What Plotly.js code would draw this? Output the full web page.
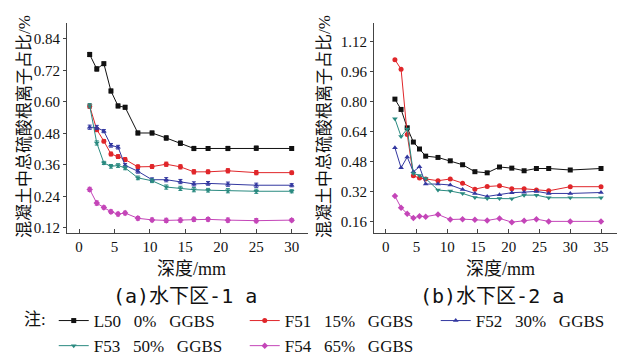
<!DOCTYPE html>
<html>
<head>
<meta charset="utf-8">
<script src="https://cdn.plot.ly/plotly-3.0.1.min.js"></script>
<style>html,body{margin:0;padding:0;background:#fff;}#chart{width:631px;height:356px;}</style>
</head>
<body>
<div id="chart"></div>
<script>
// Panel (a) 水下区-1 a
const depthA = [1.5, 2.5, 3.5, 4.5, 5.5, 6.5, 8.3, 10.3, 12.3, 14.3, 16.2, 18.2, 21, 25, 30];
const L50_a = [0.780, 0.725, 0.745, 0.641, 0.584, 0.579, 0.481, 0.481, 0.462, 0.442, 0.422, 0.422, 0.422, 0.423, 0.422];
const F51_a = [0.583, 0.494, 0.450, 0.401, 0.391, 0.380, 0.352, 0.353, 0.362, 0.352, 0.333, 0.333, 0.337, 0.330, 0.330];
const F52_a = [0.503, 0.502, 0.488, 0.434, 0.427, 0.358, 0.335, 0.303, 0.303, 0.296, 0.287, 0.289, 0.286, 0.282, 0.282];
const F53_a = [0.585, 0.443, 0.367, 0.354, 0.357, 0.348, 0.310, 0.299, 0.275, 0.270, 0.265, 0.263, 0.261, 0.259, 0.259];
const F54_a = [0.266, 0.214, 0.197, 0.181, 0.172, 0.176, 0.156, 0.150, 0.148, 0.149, 0.152, 0.152, 0.149, 0.147, 0.149];
const errA = [0.008, 0.008, 0.006, 0.007, 0.007, 0.007, 0.007, 0.007, 0.008, 0.008, 0.008, 0.007, 0.008, 0.008, 0.006];

// Panel (b) 水下区-2 a
const depthB = [1.5, 2.5, 3.5, 4.5, 5.5, 6.5, 8.5, 10.5, 12.5, 14.5, 16.5, 18.5, 20.5, 22.5, 24.5, 26.5, 30, 35];
const L50_b = [0.814, 0.759, 0.661, 0.585, 0.548, 0.510, 0.503, 0.485, 0.464, 0.427, 0.421, 0.452, 0.446, 0.432, 0.444, 0.444, 0.436, 0.444];
const F51_b = [1.024, 0.974, 0.626, 0.405, 0.393, 0.388, 0.379, 0.388, 0.366, 0.334, 0.348, 0.352, 0.336, 0.336, 0.329, 0.325, 0.347, 0.347];
const F52_b = [0.555, 0.448, 0.505, 0.427, 0.453, 0.361, 0.361, 0.356, 0.332, 0.311, 0.295, 0.304, 0.315, 0.318, 0.322, 0.311, 0.311, 0.316];
const F53_b = [0.709, 0.615, 0.655, 0.418, 0.407, 0.391, 0.329, 0.324, 0.311, 0.290, 0.284, 0.284, 0.283, 0.302, 0.302, 0.288, 0.288, 0.288];
const F54_b = [0.297, 0.235, 0.203, 0.180, 0.190, 0.187, 0.199, 0.172, 0.174, 0.171, 0.167, 0.178, 0.158, 0.165, 0.174, 0.162, 0.162, 0.162];

const seriesNames = ["L50\u00a0\u00a0\u00a00%\u00a0\u00a0\u00a0GGBS", "F51\u00a0\u00a0\u00a015%\u00a0\u00a0\u00a0GGBS", "F52\u00a0\u00a0\u00a030%\u00a0\u00a0\u00a0GGBS", "F53\u00a0\u00a0\u00a050%\u00a0\u00a0\u00a0GGBS", "F54\u00a0\u00a0\u00a065%\u00a0\u00a0\u00a0GGBS"];
const seriesColors = ["#111111", "#e0262a", "#3338a0", "#2a8a80", "#c445b8"];
const seriesSymbols = ["square", "circle", "triangle-up", "triangle-down", "diamond"];

const yTicksA = [0.12, 0.24, 0.36, 0.48, 0.60, 0.72, 0.84];
const yTicksB = [0.16, 0.32, 0.48, 0.64, 0.80, 0.96, 1.12];
const xTicksA = [0, 5, 10, 15, 20, 25, 30];
const xTicksB = [0, 5, 10, 15, 20, 25, 30, 35];

const dataA = [L50_a, F51_a, F52_a, F53_a, F54_a];
const dataB = [L50_b, F51_b, F52_b, F53_b, F54_b];

const traces = [];
dataA.forEach((ys, i) => {
  traces.push({
    x: depthA, y: ys, xaxis: 'x', yaxis: 'y', type: 'scatter', mode: 'lines+markers',
    name: seriesNames[i], showlegend: true, legendgroup: 'g' + i,
    line: {color: seriesColors[i], width: 1},
    marker: {color: seriesColors[i], symbol: seriesSymbols[i], size: 5},
    error_y: {type: 'data', array: errA, visible: true, color: seriesColors[i], thickness: 1, width: 2}
  });
});
dataB.forEach((ys, i) => {
  traces.push({
    x: depthB, y: ys, xaxis: 'x2', yaxis: 'y2', type: 'scatter', mode: 'lines+markers',
    name: seriesNames[i], showlegend: false, legendgroup: 'g' + i,
    line: {color: seriesColors[i], width: 1},
    marker: {color: seriesColors[i], symbol: seriesSymbols[i], size: 5}
  });
});

const serif = "'Liberation Serif', 'Noto Sans CJK SC', serif";
const mono = "'DejaVu Sans Mono', 'Noto Sans CJK SC', monospace";
const axisCommon = {
  showline: true, linecolor: '#444', linewidth: 1, showgrid: false, zeroline: false,
  tickcolor: '#444', tickfont: {family: serif, size: 15, color: '#111'}
};

const layout = {
  width: 631, height: 356,
  margin: {l: 0, r: 0, t: 0, b: 0, autoexpand: false},
  paper_bgcolor: '#ffffff', plot_bgcolor: '#ffffff',
  showlegend: true,
  xaxis: Object.assign({}, axisCommon, {domain: [67/631, 308/631], range: [-1.7, 32.3], tickvals: xTicksA, ticks: 'inside', ticklen: 4, anchor: 'y'}),
  yaxis: Object.assign({}, axisCommon, {domain: [123/356, 333/356], range: [0.10, 0.90], tickvals: yTicksA, tickformat: '.2f', ticks: 'outside', ticklen: 3, anchor: 'x'}),
  xaxis2: Object.assign({}, axisCommon, {domain: [374/631, 617/631], range: [-1.9, 37.6], tickvals: xTicksB, ticks: 'inside', ticklen: 4, anchor: 'y2'}),
  yaxis2: Object.assign({}, axisCommon, {domain: [123/356, 333/356], range: [0.10, 1.22], tickvals: yTicksB, tickformat: '.2f', ticks: 'outside', ticklen: 3, anchor: 'x2'}),
  legend: {
    orientation: 'h', x: 22/631, xanchor: 'left', y: 1 - 303/356, yanchor: 'top',
    font: {family: serif, size: 17, color: '#111'},
    title: {text: '注:', side: 'left', font: {family: serif, size: 17, color: '#111'}},
    entrywidth: 146, entrywidthmode: 'pixels', tracegroupgap: 0,
    bgcolor: 'rgba(0,0,0,0)', borderwidth: 0
  },
  annotations: [
    {text: '混凝土中总硫酸根离子占比/%', xref: 'paper', yref: 'paper', x: 25/631, y: 1 - 127/356, textangle: -90, showarrow: false, xanchor: 'center', yanchor: 'middle', font: {family: serif, size: 17, color: '#111'}},
    {text: '混凝土中总硫酸根离子占比/%', xref: 'paper', yref: 'paper', x: 325/631, y: 1 - 127/356, textangle: -90, showarrow: false, xanchor: 'center', yanchor: 'middle', font: {family: serif, size: 17, color: '#111'}},
    {text: '深度/mm', xref: 'paper', yref: 'paper', x: 191/631, y: 1 - 269/356, showarrow: false, xanchor: 'center', yanchor: 'middle', font: {family: serif, size: 18, color: '#111'}},
    {text: '深度/mm', xref: 'paper', yref: 'paper', x: 500/631, y: 1 - 269/356, showarrow: false, xanchor: 'center', yanchor: 'middle', font: {family: serif, size: 18, color: '#111'}},
    {text: '(a)水下区-1 a', xref: 'paper', yref: 'paper', x: 185/631, y: 1 - 296/356, showarrow: false, xanchor: 'center', yanchor: 'middle', font: {family: mono, size: 20, color: '#111'}},
    {text: '(b)水下区-2 a', xref: 'paper', yref: 'paper', x: 492/631, y: 1 - 296/356, showarrow: false, xanchor: 'center', yanchor: 'middle', font: {family: mono, size: 20, color: '#111'}}
  ]
};

Plotly.newPlot('chart', traces, layout, {displayModeBar: false, staticPlot: true});
</script>
</body>
</html>
